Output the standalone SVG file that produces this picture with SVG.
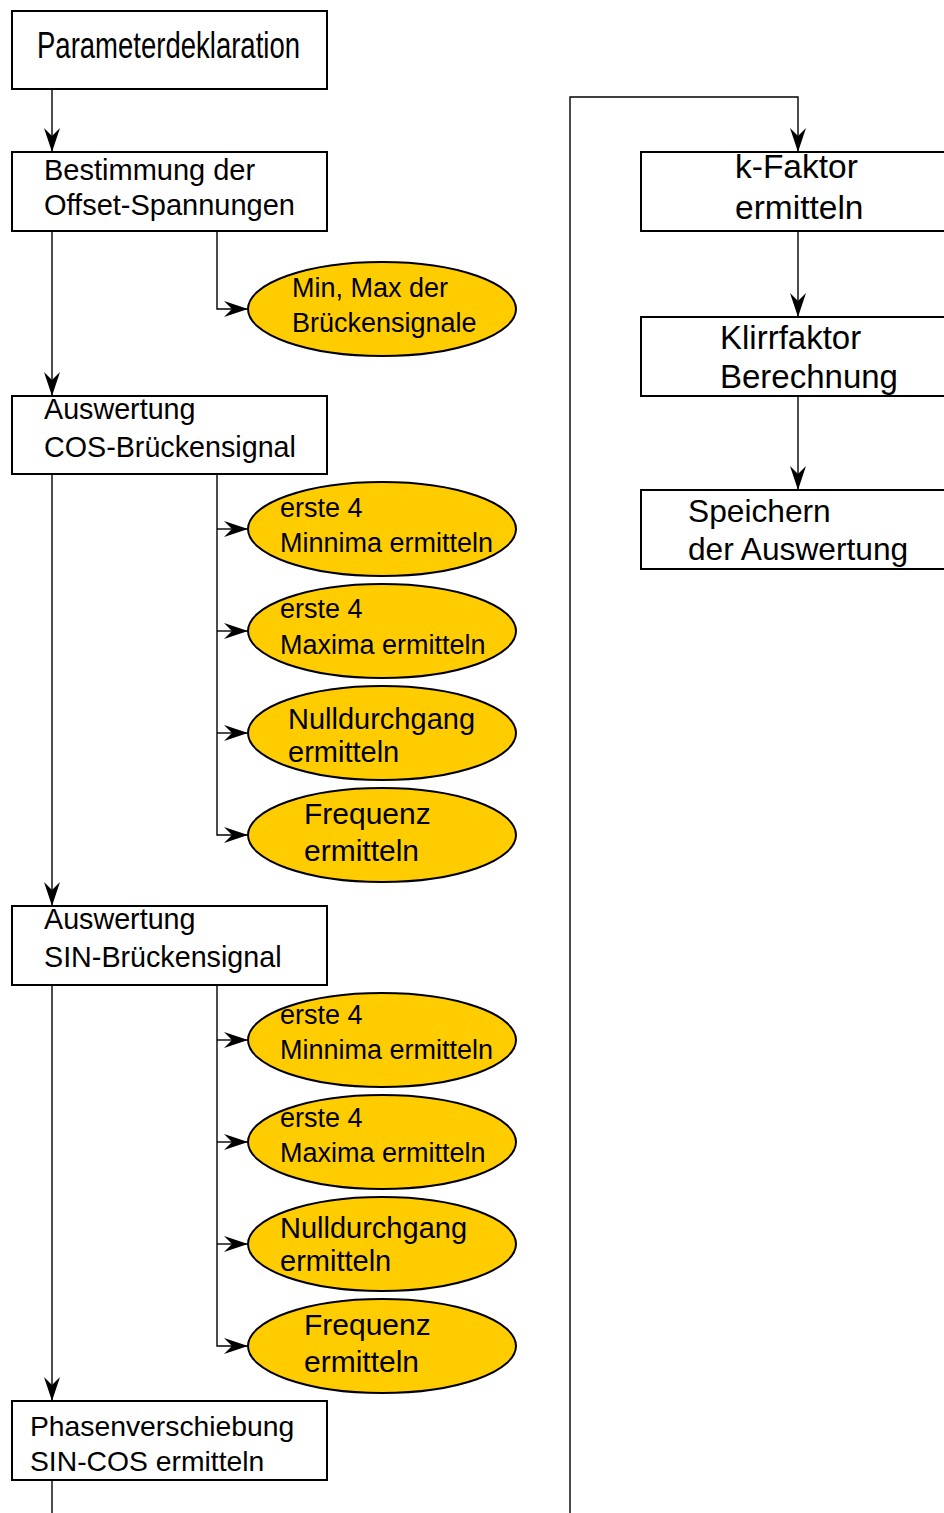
<svg xmlns="http://www.w3.org/2000/svg" width="944" height="1513" viewBox="0 0 944 1513">
<defs>
<style>
.box{fill:#fff;stroke:#000;stroke-width:2}
.ell{fill:#FFCC00;stroke:#000;stroke-width:2}
.t{font-family:"Liberation Sans",Arial,sans-serif;fill:#000}
.c{fill:none;stroke:#000;stroke-width:1.4}
</style>
<marker id="ah" viewBox="-25 -9 26 18" refX="0" refY="0" markerWidth="26" markerHeight="18" markerUnits="userSpaceOnUse" orient="auto">
<path d="M0,0 L-24,-8 L-16,0 L-24,8 Z" fill="#000"/>
</marker>
</defs>
<rect width="944" height="1513" fill="#fff"/>

<g id="connectors">
<path class="c" d="M52,89 V152" marker-end="url(#ah)"/>
<path class="c" d="M52,231 V396" marker-end="url(#ah)"/>
<path class="c" d="M217,231 V309 H248" marker-end="url(#ah)"/>
<path class="c" d="M52,474 V906" marker-end="url(#ah)"/>
<path class="c" d="M217,474 V835 H248" marker-end="url(#ah)"/>
<path class="c" d="M217,529 H248" marker-end="url(#ah)"/>
<path class="c" d="M217,631 H248" marker-end="url(#ah)"/>
<path class="c" d="M217,733 H248" marker-end="url(#ah)"/>
<path class="c" d="M52,985 V1401" marker-end="url(#ah)"/>
<path class="c" d="M217,985 V1346 H248" marker-end="url(#ah)"/>
<path class="c" d="M217,1040 H248" marker-end="url(#ah)"/>
<path class="c" d="M217,1142 H248" marker-end="url(#ah)"/>
<path class="c" d="M217,1244 H248" marker-end="url(#ah)"/>
<path class="c" d="M52,1480 V1513"/>
<path class="c" d="M570,1513 V97 H798 V152" marker-end="url(#ah)"/>
<path class="c" d="M798,231 V317" marker-end="url(#ah)"/>
<path class="c" d="M798,396 V490" marker-end="url(#ah)"/>
</g>

<g id="n1">
<rect class="box" x="12" y="11" width="315" height="78"/>
<text class="t" x="37" y="57.5" font-size="36" textLength="263" lengthAdjust="spacingAndGlyphs">Parameterdeklaration</text>
</g>
<g id="n2">
<rect class="box" x="12" y="152" width="315" height="79"/>
<text class="t" x="44" y="180" font-size="29">Bestimmung der</text>
<text class="t" x="44" y="215" font-size="29">Offset-Spannungen</text>
</g>
<g id="e1">
<ellipse class="ell" cx="382" cy="309" rx="134" ry="47"/>
<text class="t" x="292" y="297" font-size="27">Min, Max der</text>
<text class="t" x="292" y="332" font-size="27">Brückensignale</text>
</g>
<g id="n3">
<rect class="box" x="12" y="396" width="315" height="78"/>
<text class="t" x="44" y="419" font-size="28.7">Auswertung</text>
<text class="t" x="44" y="457" font-size="28.7">COS-Brückensignal</text>
</g>
<g id="e2">
<ellipse class="ell" cx="382" cy="529" rx="134" ry="47"/>
<text class="t" x="280" y="517" font-size="27">erste 4</text>
<text class="t" x="280" y="552" font-size="27">Minnima ermitteln</text>
</g>
<g id="e3">
<ellipse class="ell" cx="382" cy="631" rx="134" ry="47"/>
<text class="t" x="280" y="618" font-size="27">erste 4</text>
<text class="t" x="280" y="654" font-size="27">Maxima ermitteln</text>
</g>
<g id="e4">
<ellipse class="ell" cx="382" cy="733" rx="134" ry="47"/>
<text class="t" x="288" y="728.5" font-size="29">Nulldurchgang</text>
<text class="t" x="288" y="762" font-size="29">ermitteln</text>
</g>
<g id="e5">
<ellipse class="ell" cx="382" cy="835" rx="134" ry="47"/>
<text class="t" x="304" y="824" font-size="30">Frequenz</text>
<text class="t" x="304" y="861" font-size="30">ermitteln</text>
</g>
<g id="n4">
<rect class="box" x="12" y="906" width="315" height="79"/>
<text class="t" x="44" y="929" font-size="28.7">Auswertung</text>
<text class="t" x="44" y="967" font-size="28.7">SIN-Brückensignal</text>
</g>
<g id="e6">
<ellipse class="ell" cx="382" cy="1040" rx="134" ry="47"/>
<text class="t" x="280" y="1024" font-size="27">erste 4</text>
<text class="t" x="280" y="1059" font-size="27">Minnima ermitteln</text>
</g>
<g id="e7">
<ellipse class="ell" cx="382" cy="1142" rx="134" ry="47"/>
<text class="t" x="280" y="1127" font-size="27">erste 4</text>
<text class="t" x="280" y="1162" font-size="27">Maxima ermitteln</text>
</g>
<g id="e8">
<ellipse class="ell" cx="382" cy="1244" rx="134" ry="47"/>
<text class="t" x="280" y="1237.5" font-size="29">Nulldurchgang</text>
<text class="t" x="280" y="1271" font-size="29">ermitteln</text>
</g>
<g id="e9">
<ellipse class="ell" cx="382" cy="1346" rx="134" ry="47"/>
<text class="t" x="304" y="1335" font-size="30">Frequenz</text>
<text class="t" x="304" y="1372" font-size="30">ermitteln</text>
</g>
<g id="n5">
<rect class="box" x="12" y="1401" width="315" height="79"/>
<text class="t" x="30" y="1436" font-size="28.3">Phasenverschiebung</text>
<text class="t" x="30" y="1471" font-size="28.3">SIN-COS ermitteln</text>
</g>
<g id="n6">
<rect class="box" x="641" y="152" width="320" height="79"/>
<text class="t" x="735" y="178" font-size="33.5">k-Faktor</text>
<text class="t" x="735" y="219" font-size="33.5">ermitteln</text>
</g>
<g id="n7">
<rect class="box" x="641" y="317" width="320" height="79"/>
<text class="t" x="720" y="349" font-size="33">Klirrfaktor</text>
<text class="t" x="720" y="388" font-size="33">Berechnung</text>
</g>
<g id="n8">
<rect class="box" x="641" y="490" width="320" height="79"/>
<text class="t" x="688" y="522" font-size="31.7">Speichern</text>
<text class="t" x="688" y="560" font-size="31.7">der Auswertung</text>
</g>
</svg>
